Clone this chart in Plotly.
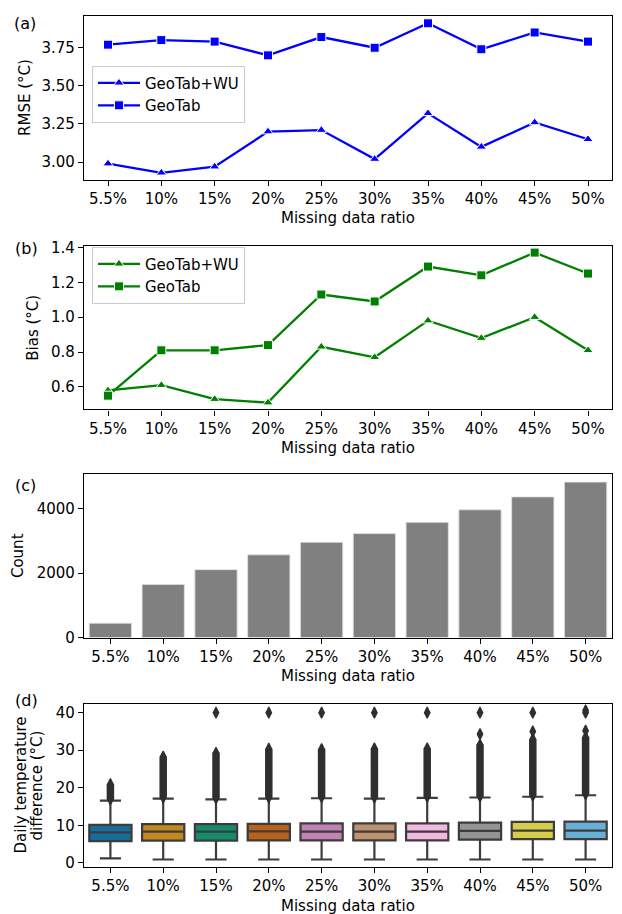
import colorsys
import plotly.graph_objects as go

# ---------------- data ----------------
categories = ["5.5%", "10%", "15%", "20%", "25%", "30%", "35%", "40%", "45%", "50%"]

rmse_geotab_wu = [2.99, 2.93, 2.97, 3.20, 3.21, 3.02, 3.32, 3.10, 3.26, 3.15]
rmse_geotab = [3.77, 3.80, 3.79, 3.70, 3.82, 3.75, 3.91, 3.74, 3.85, 3.79]

bias_geotab_wu = [0.58, 0.61, 0.53, 0.51, 0.83, 0.77, 0.98, 0.88, 1.00, 0.81]
bias_geotab = [0.55, 0.81, 0.81, 0.84, 1.13, 1.09, 1.29, 1.24, 1.37, 1.25]

counts = [445, 1650, 2110, 2570, 2960, 3230, 3580, 3970, 4370, 4830]

box_q1 = [5.8, 5.9, 5.9, 6.0, 6.0, 6.0, 6.0, 6.2, 6.3, 6.3]
box_median = [8.1, 8.3, 8.3, 8.4, 8.3, 8.3, 8.3, 8.5, 8.6, 8.6]
box_q3 = [10.1, 10.3, 10.3, 10.4, 10.5, 10.5, 10.5, 10.7, 10.9, 11.0]
box_lower = [1.2, 0.9, 0.9, 0.9, 0.9, 0.9, 0.9, 0.9, 0.9, 0.9]
box_upper = [16.6, 17.1, 16.9, 17.1, 17.2, 17.1, 17.3, 17.4, 17.6, 18.0]
outlier_band_top = [21.0, 28.3, 29.3, 30.4, 30.3, 30.5, 30.5, 31.5, 33.0, 33.5]
outlier_isolated = [[], [], [40.0], [40.0], [40.0], [40.0], [40.0],
                    [34.3, 40.0], [35.0, 40.0], [35.2, 40.0, 40.6]]

palette = ["#0173b2", "#de8f05", "#029e73", "#d55e00", "#cc78bc",
           "#ca9161", "#fbafe4", "#949494", "#ece133", "#56b4e9"]

# ---------------- styling helpers ----------------
FONT = "DejaVu Sans"
FS = 15
W, H = 622, 914
ML, MR, MT, MB = 84, 9, 9, 47
PW = W - ML - MR
PH = H - MT - MB


def py(pix):  # pixel y -> paper y
    return (H - MB - pix) / PH


def px(pix):  # pixel x -> paper x
    return (pix - ML) / PW


def desat(hexcol, prop=0.75):
    r, g, b = (int(hexcol[i:i + 2], 16) / 255 for i in (1, 3, 5))
    h, l, s = colorsys.rgb_to_hls(r, g, b)
    r, g, b = colorsys.hls_to_rgb(h, l, s * prop)
    return "#%02x%02x%02x" % (round(r * 255), round(g * 255), round(b * 255))


panels = {  # top, bottom pixel positions
    "a": (9, 174),
    "b": (240.7, 405.7),
    "c": (471, 635.7),
    "d": (702.3, 867),
}

fig = go.Figure()

# ---- (a) RMSE ----
blue = "#0000ff"
fig.add_trace(go.Scatter(x=categories, y=rmse_geotab_wu, mode="lines+markers",
                         name="GeoTab+WU", line=dict(color=blue, width=2.3),
                         marker=dict(symbol="triangle-up", size=9, color=blue,
                                     line=dict(color="white", width=1)),
                         xaxis="x", yaxis="y", legend="legend"))
fig.add_trace(go.Scatter(x=categories, y=rmse_geotab, mode="lines+markers",
                         name="GeoTab", line=dict(color=blue, width=2.3),
                         marker=dict(symbol="square", size=9, color=blue,
                                     line=dict(color="white", width=1)),
                         xaxis="x", yaxis="y", legend="legend"))

# ---- (b) Bias ----
green = "#008000"
fig.add_trace(go.Scatter(x=categories, y=bias_geotab_wu, mode="lines+markers",
                         name="GeoTab+WU", line=dict(color=green, width=2.3),
                         marker=dict(symbol="triangle-up", size=9, color=green,
                                     line=dict(color="white", width=1)),
                         xaxis="x2", yaxis="y2", legend="legend2"))
fig.add_trace(go.Scatter(x=categories, y=bias_geotab, mode="lines+markers",
                         name="GeoTab", line=dict(color=green, width=2.3),
                         marker=dict(symbol="square", size=9, color=green,
                                     line=dict(color="white", width=1)),
                         xaxis="x2", yaxis="y2", legend="legend2"))

# ---- (c) Count ----
fig.add_trace(go.Bar(x=categories, y=counts, width=0.8,
                     marker=dict(color="#808080", line=dict(color="#e0e0e0", width=0.8)),
                     showlegend=False, xaxis="x3", yaxis="y3"))

# ---- (d) Box plots ----
dark = "#3c3c3c"
for i, cat in enumerate(categories):
    fig.add_trace(go.Box(x=[cat], q1=[box_q1[i]], median=[box_median[i]], q3=[box_q3[i]],
                         lowerfence=[box_lower[i]], upperfence=[box_upper[i]],
                         width=0.8, whiskerwidth=0.5, boxpoints=False,
                         fillcolor=desat(palette[i]), line=dict(color=dark, width=2.2),
                         showlegend=False, xaxis="x4", yaxis="y4"))
    # dense column of outliers
    fig.add_trace(go.Scatter(x=[cat, cat], y=[box_upper[i] + 0.3, outlier_band_top[i]],
                             mode="lines+markers", line=dict(color="#2f2f2f", width=7.5),
                             marker=dict(symbol="diamond-tall", size=8, color="#2f2f2f",
                                         line=dict(color="#2f2f2f", width=1.2)),
                             showlegend=False, xaxis="x4", yaxis="y4"))
    if outlier_isolated[i]:
        fig.add_trace(go.Scatter(x=[cat] * len(outlier_isolated[i]), y=outlier_isolated[i],
                                 mode="markers",
                                 marker=dict(symbol="diamond-tall", size=8, color="#2f2f2f",
                                             line=dict(color="#2f2f2f", width=1.2)),
                                 showlegend=False, xaxis="x4", yaxis="y4"))

# ---------------- axes ----------------
axis_common = dict(showline=True, linecolor="black", linewidth=1.2, mirror=True,
                   ticks="outside", ticklen=5, tickwidth=1.2, tickcolor="black",
                   showgrid=False, zeroline=False,
                   tickfont=dict(family=FONT, size=FS, color="black"))

xr_line = [-0.45, 9.45]
xr_cat = [-0.5, 9.5]
yranges = {"a": [2.885, 3.958], "b": [0.471, 1.409], "c": [0, 5075], "d": [-1.1, 42.4]}
yticks = {"a": ([3.0, 3.25, 3.5, 3.75], ["3.00", "3.25", "3.50", "3.75"]),
          "b": ([0.6, 0.8, 1.0, 1.2, 1.4], ["0.6", "0.8", "1.0", "1.2", "1.4"]),
          "c": ([0, 2000, 4000], ["0", "2000", "4000"]),
          "d": ([0, 10, 20, 30, 40], ["0", "10", "20", "30", "40"])}

layout_axes = {}
for k, (key, xr) in enumerate(zip("abcd", [xr_line, xr_line, xr_cat, xr_cat])):
    n = "" if k == 0 else str(k + 1)
    top, bot = panels[key]
    layout_axes["xaxis" + n] = dict(axis_common, domain=[0, 1], anchor="y" + n,
                                    type="category", categoryorder="array",
                                    categoryarray=categories, range=xr)
    layout_axes["yaxis" + n] = dict(axis_common, domain=[py(bot), py(top)], anchor="x" + n,
                                    range=yranges[key], tickvals=yticks[key][0],
                                    ticktext=yticks[key][1])

fig.update_layout(**layout_axes)

# ---------------- annotations ----------------
ann = []
labels = {"a": (25, 17), "b": (26, 243), "c": (25, 482), "d": (26, 699)}
for key, (lx, ly) in labels.items():
    ann.append(dict(text="(%s)" % key, x=px(lx), y=py(ly), xref="paper", yref="paper",
                    showarrow=False, xanchor="center", yanchor="middle",
                    font=dict(family=FONT, size=16, color="black")))
for key in "abcd":
    top, bot = panels[key]
    ann.append(dict(text="Missing data ratio", x=0.5, y=py(bot + 39), xref="paper", yref="paper",
                    showarrow=False, xanchor="center", yanchor="middle",
                    font=dict(family=FONT, size=FS, color="black")))

ytitles = [("RMSE (°C)", 25, "a"), ("Bias (°C)", 33, "b"), ("Count", 18, "c"),
           ("Daily temperature", 21, "d"), ("difference (°C)", 37, "d")]
for text, xx, key in ytitles:
    top, bot = panels[key]
    ann.append(dict(text=text, x=px(xx), y=py((top + bot) / 2), xref="paper", yref="paper",
                    showarrow=False, xanchor="center", yanchor="middle", textangle=-90,
                    font=dict(family=FONT, size=FS, color="black")))

legend_common = dict(font=dict(family=FONT, size=FS, color="black"),
                     bgcolor="rgba(255,255,255,0.8)", bordercolor="#cccccc", borderwidth=1,
                     xanchor="left", yanchor="top", traceorder="normal", itemwidth=42)

fig.update_layout(
    width=W, height=H,
    margin=dict(l=ML, r=MR, t=MT, b=MB),
    paper_bgcolor="white", plot_bgcolor="white",
    font=dict(family=FONT, size=FS, color="black"),
    annotations=ann,
    legend=dict(legend_common, x=px(92), y=py(59)),
    legend2=dict(legend_common, x=px(92), y=py(241.5)),
    boxmode="overlay",
    bargap=0.2,
)

fig.write_html("out.html")
